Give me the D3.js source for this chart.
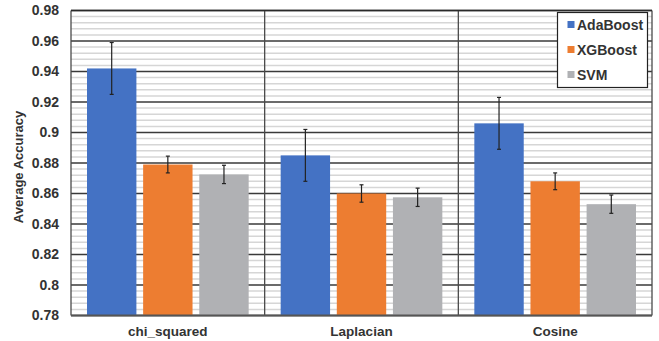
<!DOCTYPE html>
<html>
<head>
<meta charset="utf-8">
<script src="https://cdn.jsdelivr.net/npm/d3@7/dist/d3.min.js"></script>
<style>
  html, body { margin: 0; padding: 0; background: #fff; }
  svg { display: block; font-family: Arial, "Liberation Sans", sans-serif; }
</style>
</head>
<body>
<svg id="chart" width="659" height="341"></svg>
<script>
// Feature-similarity measures and classifiers
const categories = ["chi_squared", "Laplacian", "Cosine"];
const seriesNames = ["AdaBoost", "XGBoost", "SVM"];
const seriesColors = ["#4472C4", "#ED7D31", "#B0B1B4"];

// Mean accuracy per measure, one array per classifier
const adaBoost = [0.942, 0.885, 0.906];
const xgBoost = [0.879, 0.860, 0.868];
const svm = [0.8725, 0.8575, 0.853];

// Half-width of the error bars
const adaBoostErr = [0.017, 0.017, 0.017];
const xgBoostErr = [0.0055, 0.0057, 0.0055];
const svmErr = [0.006, 0.006, 0.006];

const yTicks = [0.78, 0.8, 0.82, 0.84, 0.86, 0.88, 0.9, 0.92, 0.94, 0.96, 0.98];
const yTickLabels = ["0.78", "0.8", "0.82", "0.84", "0.86", "0.88", "0.9", "0.92", "0.94", "0.96", "0.98"];

const values = [adaBoost, xgBoost, svm];
const errors = [adaBoostErr, xgBoostErr, svmErr];

const margin = { top: 10.5, right: 7, bottom: 25.5, left: 71 };
const W = 659, H = 341;
const iw = W - margin.left - margin.right;
const ih = H - margin.top - margin.bottom;

const svg = d3.select("#chart");
const g = svg.append("g").attr("transform", `translate(${margin.left},${margin.top})`);

const x0 = d3.scaleBand().domain(categories).range([0, iw]).paddingInner(0).paddingOuter(0);
const x1 = d3.scaleBand().domain(seriesNames).range([16, x0.bandwidth() - 16]).paddingInner(0.12).paddingOuter(0);
const y = d3.scaleLinear().domain([0.78, 0.98]).range([ih, 0]);

// Minor gridlines (five steps per major interval)
const minor = [];
for (let i = 0; i < yTicks.length - 1; i++) {
  for (let k = 1; k < 5; k++) minor.push(yTicks[i] + (yTicks[i + 1] - yTicks[i]) * k / 5);
}
g.append("g").selectAll("line").data(minor).join("line")
  .attr("x1", 0).attr("x2", iw)
  .attr("y1", d => y(d)).attr("y2", d => y(d))
  .attr("stroke", "#d6d6d6").attr("stroke-width", 1.5);

// Major gridlines
g.append("g").selectAll("line").data(yTicks).join("line")
  .attr("x1", 0).attr("x2", iw)
  .attr("y1", d => y(d)).attr("y2", d => y(d))
  .attr("stroke", "#3a3a3a").attr("stroke-width", 1.3);

// Category dividers and frame
const dividers = categories.map(c => x0(c)).concat([iw]);
g.append("g").selectAll("line").data(dividers).join("line")
  .attr("x1", d => d).attr("x2", d => d)
  .attr("y1", 0).attr("y2", ih)
  .attr("stroke", "#4a4a4a").attr("stroke-width", 1.3);

// Bars
const groups = g.append("g").selectAll("g").data(categories).join("g")
  .attr("transform", c => `translate(${x0(c)},0)`);

groups.selectAll("rect")
  .data((c, ci) => seriesNames.map((s, si) => ({ s, si, v: values[si][ci], e: errors[si][ci] })))
  .join("rect")
  .attr("x", d => x1(d.s))
  .attr("width", x1.bandwidth())
  .attr("y", d => y(d.v))
  .attr("height", d => y(0.78) - y(d.v))
  .attr("fill", d => seriesColors[d.si]);

// Error bars
const eb = groups.selectAll("g.err")
  .data((c, ci) => seriesNames.map((s, si) => ({ s, si, v: values[si][ci], e: errors[si][ci] })))
  .join("g").attr("class", "err")
  .attr("stroke", "#222").attr("stroke-width", 1.2);
eb.append("line")
  .attr("x1", d => x1(d.s) + x1.bandwidth() / 2).attr("x2", d => x1(d.s) + x1.bandwidth() / 2)
  .attr("y1", d => y(d.v + d.e)).attr("y2", d => y(d.v - d.e));
eb.append("line")
  .attr("x1", d => x1(d.s) + x1.bandwidth() / 2 - 2).attr("x2", d => x1(d.s) + x1.bandwidth() / 2 + 2)
  .attr("y1", d => y(d.v + d.e)).attr("y2", d => y(d.v + d.e));
eb.append("line")
  .attr("x1", d => x1(d.s) + x1.bandwidth() / 2 - 2).attr("x2", d => x1(d.s) + x1.bandwidth() / 2 + 2)
  .attr("y1", d => y(d.v - d.e)).attr("y2", d => y(d.v - d.e));

// Top border and bottom axis line
g.append("line").attr("x1", 0).attr("x2", iw).attr("y1", 0).attr("y2", 0)
  .attr("stroke", "#2a2a2a").attr("stroke-width", 1.5);
g.append("line").attr("x1", 0).attr("x2", iw).attr("y1", ih).attr("y2", ih)
  .attr("stroke", "#555").attr("stroke-width", 2);

// Y axis labels
const yAxis = d3.axisLeft(y).tickValues(yTicks)
  .tickFormat((d, i) => yTickLabels[i]).tickSize(0).tickPadding(12);
const ya = g.append("g").call(yAxis);
ya.select(".domain").remove();
ya.selectAll("text")
  .attr("font-size", 14).attr("font-weight", "bold").attr("fill", "#333")
  .attr("font-family", "Arial, 'Liberation Sans', sans-serif");

// X axis labels
const xAxis = d3.axisBottom(x0).tickSize(0).tickPadding(11);
const xa = g.append("g").attr("transform", `translate(0,${ih})`).call(xAxis);
xa.select(".domain").remove();
xa.selectAll("text")
  .attr("font-size", 13.5).attr("font-weight", "bold").attr("fill", "#333")
  .attr("font-family", "Arial, 'Liberation Sans', sans-serif");

// Y axis title
svg.append("text")
  .attr("transform", `translate(23,${margin.top + ih / 2 + 4}) rotate(-90)`)
  .attr("text-anchor", "middle")
  .attr("font-size", 13).attr("font-weight", "bold").attr("fill", "#333")
  .text("Average Accuracy");

// Legend
const lg = svg.append("g").attr("transform", "translate(557.5,12.5)");
lg.append("rect").attr("width", 90).attr("height", 75)
  .attr("fill", "#fff").attr("stroke", "#222").attr("stroke-width", 1.2);
const li = lg.selectAll("g").data(seriesNames).join("g")
  .attr("transform", (d, i) => `translate(10,${12 + i * 25})`);
li.append("rect").attr("x", 0).attr("y", -3.5).attr("width", 7).attr("height", 7)
  .attr("fill", (d, i) => seriesColors[i]);
li.append("text").attr("x", 9.5).attr("y", 0).attr("dy", "0.36em")
  .attr("font-size", 14).attr("font-weight", "bold").attr("fill", "#333")
  .text(d => d);
</script>
</body>
</html>
